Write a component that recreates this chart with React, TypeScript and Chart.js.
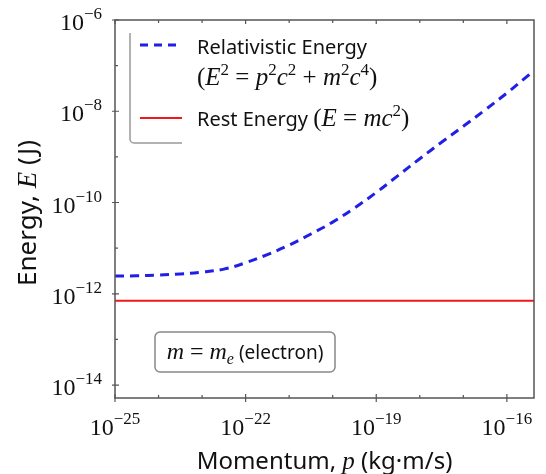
import React, { useEffect, useRef } from "react";
import { Chart, registerables } from "chart.js";
Chart.register(...registerables);

// Momentum samples (kg·m/s) and energies (J)
const momentum = [1e-25, 3.16e-25, 1e-24, 3.16e-24, 1e-23, 3.16e-23, 1e-22, 3.16e-22, 1e-21, 3.16e-21, 1e-20, 3.16e-20, 1e-19, 3.16e-19, 1e-18, 3.16e-18, 1e-17, 3.16e-17, 1e-16, 3.16e-16, 4.2e-16];
const relativisticEnergy = [2.45e-12, 2.48e-12, 2.57e-12, 2.72e-12, 2.99e-12, 3.47e-12, 4.79e-12, 7.24e-12, 1.17e-11, 2.04e-11, 3.72e-11, 7.59e-11, 1.66e-10, 3.89e-10, 9.12e-10, 2.09e-9, 4.68e-9, 1.07e-8, 2.51e-8, 6.17e-8, 7.59e-8];
const restEnergy = 7.0e-13;

const xRange = [1e-25, 4.2e-16];
const yRange = [5.2e-15, 1e-6];
const xMajorExp = [-25, -22, -19, -16];
const xMinorExp = [-24, -23, -21, -20, -18, -17];
const yMajorExp = [-14, -12, -10, -8, -6];
const yMinorExp = [-13, -11, -9, -7];

const SANS = '"Noto Sans", "Open Sans", sans-serif';
const SERIF = '"Liberation Serif", "DejaVu Serif", serif';

type Seg = { t: string; f: string; dy?: number };

function segWidth(ctx: CanvasRenderingContext2D, segs: Seg[]) {
  let w = 0;
  for (const s of segs) {
    ctx.font = s.f;
    w += ctx.measureText(s.t).width;
  }
  return w;
}

function drawSegs(ctx: CanvasRenderingContext2D, segs: Seg[], x: number, y: number, color = "#111") {
  ctx.fillStyle = color;
  ctx.textBaseline = "alphabetic";
  ctx.textAlign = "left";
  let cx = x;
  for (const s of segs) {
    ctx.font = s.f;
    ctx.fillText(s.t, cx, y + (s.dy || 0));
    cx += ctx.measureText(s.t).width;
  }
}

function powSegs(exp: number): Seg[] {
  const e = exp < 0 ? "\u2212" + String(-exp) : String(exp);
  return [
    { t: "10", f: `24px ${SERIF}` },
    { t: e, f: `17px ${SERIF}`, dy: -11 },
  ];
}

const rm = (s: number) => `${s}px ${SERIF}`;
const it = (s: number) => `italic ${s}px ${SERIF}`;
const sans = (s: number) => `${s}px ${SANS}`;

const decorPlugin = {
  id: "decor",
  afterDraw(chart: any) {
    const ctx: CanvasRenderingContext2D = chart.ctx;
    const { left, right, top, bottom } = chart.chartArea;
    const xs = chart.scales.x;
    const ys = chart.scales.y;
    ctx.save();
    // frame
    ctx.strokeStyle = "#555";
    ctx.lineWidth = 1.5;
    ctx.strokeRect(left, top, right - left, bottom - top);
    // ticks
    ctx.lineWidth = 1.2;
    ctx.beginPath();
    for (const e of xMajorExp) {
      const px = xs.getPixelForValue(Math.pow(10, e));
      ctx.moveTo(px, bottom - 4); ctx.lineTo(px, bottom + 4);
      ctx.moveTo(px, top); ctx.lineTo(px, top + 4);
    }
    for (const e of xMinorExp) {
      const px = xs.getPixelForValue(Math.pow(10, e));
      ctx.moveTo(px, bottom); ctx.lineTo(px, bottom - 3);
      ctx.moveTo(px, top); ctx.lineTo(px, top + 3);
    }
    for (const e of yMajorExp) {
      const py = ys.getPixelForValue(Math.pow(10, e));
      ctx.moveTo(left - 3, py); ctx.lineTo(left + 4, py);
    }
    for (const e of yMinorExp) {
      const py = ys.getPixelForValue(Math.pow(10, e));
      ctx.moveTo(left, py); ctx.lineTo(left + 3, py);
    }
    ctx.stroke();

    // tick labels
    for (const e of xMajorExp) {
      const px = xs.getPixelForValue(Math.pow(10, e));
      const segs = powSegs(e);
      const w = segWidth(ctx, segs);
      drawSegs(ctx, segs, px - w / 2, bottom + 37);
    }
    for (const e of yMajorExp) {
      const py = ys.getPixelForValue(Math.pow(10, e));
      const segs = powSegs(e);
      const w = segWidth(ctx, segs);
      drawSegs(ctx, segs, left - 13 - w, py + 10);
    }

    // axis titles
    const xt: Seg[] = [
      { t: "Momentum, ", f: sans(24) },
      { t: "p", f: it(25) },
      { t: " (kg\u00b7m/s)", f: sans(24) },
    ];
    const xw = segWidth(ctx, xt);
    drawSegs(ctx, xt, (left + right) / 2 - xw / 2, bottom + 71);

    const yt: Seg[] = [
      { t: "Energy, ", f: sans(26) },
      { t: "E", f: it(27) },
      { t: " (J)", f: sans(26) },
    ];
    const yw = segWidth(ctx, yt);
    ctx.save();
    ctx.translate(28, (top + bottom) / 2 + 4);
    ctx.rotate(-Math.PI / 2);
    drawSegs(ctx, yt, -yw / 2, 0);
    ctx.restore();

    // legend frame (left and bottom edges visible)
    ctx.strokeStyle = "#999";
    ctx.lineWidth = 1.5;
    ctx.beginPath();
    ctx.moveTo(left + 15, top + 13);
    ctx.lineTo(left + 15, top + 119);
    ctx.arcTo(left + 15, top + 123, left + 19, top + 123, 4);
    ctx.lineTo(left + 67, top + 123);
    ctx.stroke();

    // legend samples
    ctx.lineWidth = 3;
    ctx.strokeStyle = "#1f1fe6";
    ctx.setLineDash([8, 6]);
    ctx.beginPath();
    ctx.moveTo(left + 25, top + 25);
    ctx.lineTo(left + 62, top + 25);
    ctx.stroke();
    ctx.setLineDash([]);
    ctx.lineWidth = 2;
    ctx.strokeStyle = "#f01818";
    ctx.beginPath();
    ctx.moveTo(left + 25, top + 98);
    ctx.lineTo(left + 67, top + 98);
    ctx.stroke();

    const lx = left + 82;
    const M = 25, S = 17, D = -10;
    drawSegs(ctx, [{ t: "Relativistic Energy", f: sans(20) }], lx, top + 34);
    drawSegs(ctx, [
      { t: "(", f: rm(M) },
      { t: "E", f: it(M) },
      { t: "2", f: rm(S), dy: D },
      { t: " = ", f: rm(M) },
      { t: "p", f: it(M) },
      { t: "2", f: rm(S), dy: D },
      { t: "c", f: it(M) },
      { t: "2", f: rm(S), dy: D },
      { t: " + ", f: rm(M) },
      { t: "m", f: it(M) },
      { t: "2", f: rm(S), dy: D },
      { t: "c", f: it(M) },
      { t: "4", f: rm(S), dy: D },
      { t: ")", f: rm(M) },
    ], lx, top + 65);
    drawSegs(ctx, [
      { t: "Rest Energy ", f: sans(20) },
      { t: "(", f: rm(M) },
      { t: "E", f: it(M) },
      { t: " = ", f: rm(M) },
      { t: "mc", f: it(M) },
      { t: "2", f: rm(S), dy: D },
      { t: ")", f: rm(M) },
    ], lx, top + 106);

    // annotation box
    const bx = left + 40, by = top + 312, bw = 180, bh = 40;
    ctx.fillStyle = "rgba(255,255,255,0.9)";
    ctx.strokeStyle = "#888";
    ctx.lineWidth = 1.5;
    ctx.beginPath();
    (ctx as any).roundRect(bx, by, bw, bh, 5);
    ctx.fill();
    ctx.stroke();
    const ann: Seg[] = [
      { t: "m", f: it(24) },
      { t: " = ", f: rm(24) },
      { t: "m", f: it(24) },
      { t: "e", f: it(16), dy: 5 },
      { t: " (electron)", f: sans(19) },
    ];
    const aw = segWidth(ctx, ann);
    drawSegs(ctx, ann, bx + bw / 2 - aw / 2, by + bh / 2 + 7);
    ctx.restore();
  },
};

export default function App() {
  const ref = useRef<HTMLCanvasElement | null>(null);
  useEffect(() => {
    document.body.style.overflow = "hidden";
    if (!ref.current) return;
    const chart = new Chart(ref.current, {
      type: "scatter",
      data: {
        datasets: [
          {
            label: "Relativistic Energy",
            data: momentum.map((p, i) => ({ x: p, y: relativisticEnergy[i] })),
            showLine: true,
            borderColor: "#1f1fe6",
            borderWidth: 3,
            borderDash: [9, 6],
            pointRadius: 0,
            tension: 0.4,
          },
          {
            label: "Rest Energy",
            data: [
              { x: xRange[0], y: restEnergy },
              { x: xRange[1], y: restEnergy },
            ],
            showLine: true,
            borderColor: "#f01818",
            borderWidth: 2,
            pointRadius: 0,
          },
        ],
      },
      options: {
        animation: false,
        responsive: true,
        maintainAspectRatio: false,
        layout: { padding: { left: 99, top: 12, right: 4, bottom: 68 } },
        plugins: { legend: { display: false }, tooltip: { enabled: false } },
        scales: {
          x: {
            type: "logarithmic",
            min: xRange[0],
            max: xRange[1],
            grid: { display: false },
            border: { display: false },
            ticks: { display: false },
          },
          y: {
            type: "logarithmic",
            min: yRange[0],
            max: yRange[1],
            grid: { display: false },
            border: { display: false },
            ticks: { display: false },
          },
        },
      } as any,
      plugins: [decorPlugin],
    });
    return () => chart.destroy();
  }, []);
  return (
    <div style={{ width: 530, height: 466 }}>
      <canvas ref={ref} />
    </div>
  );
}
